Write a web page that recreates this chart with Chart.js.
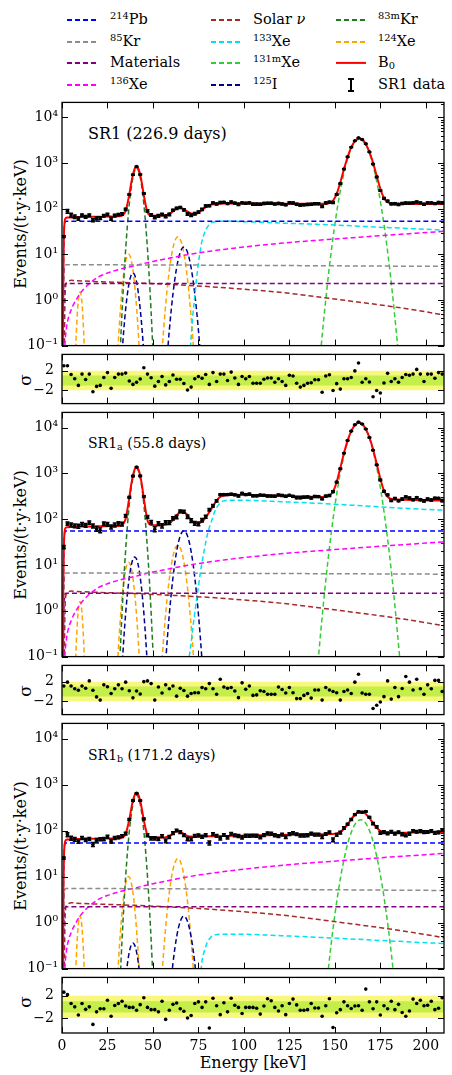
<!DOCTYPE html>
<html><head><meta charset="UTF-8">
<title>SR1 energy spectrum fit</title>
<script src="https://cdn.jsdelivr.net/npm/chart.js@4/dist/chart.umd.min.js"></script>
<style>
*{margin:0;padding:0;box-sizing:border-box}
body{width:452px;height:1075px;background:#fff;position:relative;overflow:hidden;font-family:'DejaVu Serif','Liberation Serif',serif;color:#000}
canvas{position:absolute;left:0}
.lt{position:absolute;font-size:14.5px;line-height:1;white-space:nowrap;transform:translateY(-55%)}
.sw{position:absolute;width:30px;height:2px;transform:translateY(-50%)}
.rot{position:absolute;white-space:nowrap;transform:translate(-50%,-50%) rotate(-90deg)}
.tag{position:absolute;white-space:nowrap;transform:translateY(-50%)}
sup{font-size:0.68em;vertical-align:0.5em;line-height:0}
sub{font-size:0.68em;vertical-align:-0.2em;line-height:0}
</style></head><body>

<!-- legend -->
<div class="sw" style="left:67px;top:20px;background:repeating-linear-gradient(90deg,#0000ff 0 5px,transparent 5px 8px)"></div>
<div class="lt" style="left:110px;top:20px"><sup>214</sup>Pb</div>
<div class="sw" style="left:67px;top:42px;background:repeating-linear-gradient(90deg,#8c8c8c 0 5px,transparent 5px 8px)"></div>
<div class="lt" style="left:110px;top:42px"><sup>85</sup>Kr</div>
<div class="sw" style="left:67px;top:63px;background:repeating-linear-gradient(90deg,#800080 0 5px,transparent 5px 8px)"></div>
<div class="lt" style="left:110px;top:63px">Materials</div>
<div class="sw" style="left:67px;top:85px;background:repeating-linear-gradient(90deg,#ff00ff 0 5px,transparent 5px 8px)"></div>
<div class="lt" style="left:110px;top:85px"><sup>136</sup>Xe</div>

<div class="sw" style="left:211px;top:20px;background:repeating-linear-gradient(90deg,#a52a2a 0 5px,transparent 5px 8px)"></div>
<div class="lt" style="left:253px;top:20px">Solar <i>ν</i></div>
<div class="sw" style="left:211px;top:42px;background:repeating-linear-gradient(90deg,#00e0f0 0 5px,transparent 5px 8px)"></div>
<div class="lt" style="left:253px;top:42px"><sup>133</sup>Xe</div>
<div class="sw" style="left:211px;top:63px;background:repeating-linear-gradient(90deg,#32cd32 0 5px,transparent 5px 8px)"></div>
<div class="lt" style="left:253px;top:63px"><sup>131m</sup>Xe</div>
<div class="sw" style="left:211px;top:85px;background:repeating-linear-gradient(90deg,#00008b 0 5px,transparent 5px 8px)"></div>
<div class="lt" style="left:253px;top:85px"><sup>125</sup>I</div>

<div class="sw" style="left:336px;top:20px;background:repeating-linear-gradient(90deg,#1e7b1e 0 5px,transparent 5px 8px)"></div>
<div class="lt" style="left:378px;top:20px"><sup>83m</sup>Kr</div>
<div class="sw" style="left:336px;top:42px;background:repeating-linear-gradient(90deg,#ffa500 0 5px,transparent 5px 8px)"></div>
<div class="lt" style="left:378px;top:42px"><sup>124</sup>Xe</div>
<div class="sw" style="left:336px;top:63px;background:#ff0000;height:2.2px"></div>
<div class="lt" style="left:378px;top:63px">B<sub>0</sub></div>
<div style="position:absolute;left:350px;top:78px;width:1.8px;height:14px;background:#000"></div>
<div style="position:absolute;left:348px;top:78px;width:6px;height:1.6px;background:#000"></div>
<div style="position:absolute;left:348px;top:90.4px;width:6px;height:1.6px;background:#000"></div>
<div class="lt" style="left:378px;top:85px">SR1 data</div>

<!-- axis titles and panel tags -->
<div class="rot" style="left:20px;top:224px;font-size:16px">Events/(t·y·keV)</div>
<div class="rot" style="left:20px;top:535px;font-size:16px">Events/(t·y·keV)</div>
<div class="rot" style="left:20px;top:846px;font-size:16px">Events/(t·y·keV)</div>
<div class="rot" style="left:25px;top:380px;font-size:17px">σ</div>
<div class="rot" style="left:25px;top:691px;font-size:17px">σ</div>
<div class="rot" style="left:25px;top:1002px;font-size:17px">σ</div>
<div class="tag" style="left:88px;top:133px;font-size:16px">SR1 (226.9 days)</div>
<div class="tag" style="left:88px;top:443px;font-size:14px">SR1<sub>a</sub> (55.8 days)</div>
<div class="tag" style="left:88px;top:755px;font-size:14px">SR1<sub>b</sub> (171.2 days)</div>
<div class="tag" style="left:253px;top:1062px;font-size:16px;transform:translate(-50%,-50%)">Energy [keV]</div>

<script>
// ---------- energies [keV] ----------
const binE = [1,3,5,7,9,11,13,15,17,19,21,23,25,27,29,31,33,35,37,39,41,43,45,47,49,51,53,55,57,59,61,63,65,67,69,71,73,75,77,79,81,83,85,87,89,91,93,95,97,99,101,103,105,107,109,111,113,115,117,119,121,123,125,127,129,131,133,135,137,139,141,143,145,147,149,151,153,155,157,159,161,163,165,167,169,171,173,175,177,179,181,183,185,187,189,191,193,195,197,199,201,203,205,207,209];
const fitE = [0.4,0.7,1,1.4,2,3,5,7,9,11,13,15,17,19,21,23,25,27,29,31,33,35,37,38,39,40,41,42,43,44,45,47,49,51,53,55,57,59,61,63,65,67,69,71,73,75,77,79,81,83,85,87,89,91,93,95,97,99,101,103,105,107,109,111,113,115,117,119,121,123,125,127,129,131,133,135,137,139,141,143,145,147,149,151,153,155,157,159,161,163,165,167,169,171,173,175,177,179,181,183,185,187,189,191,193,195,197,199,201,203,205,207,209,210];
const thrE = [0.5,0.8,1.0,1.3,1.7,2.2,210];
const solarE = [1.2,1.6,2,3,5,8,12,20,30,40,50,60,70,80,90,100,120,140,160,180,200,210];
const xe136E = [1.3,1.6,2,3,4,5,6,8,10,12,14,17,20,25,30,35,40,45,50,60,70,80,90,100,120,140,160,180,200,210];
const kr83E = [32,33,34,35,36,37,38,39,40,41,42,43,44,45,46,47,48,49,50];
const i125E = [32,33,34,35,36,37,38,39,40,41,42,43,44,45,46,52,57,58,59,60,61,62,63,64,65,66,67,68,69,70,71,72,73,74,75,76,77];
const i125E_a = [32,33,34,35,36,37,38,39,40,41,42,43,44,45,46,47,48,52,57,58,59,60,61,62,63,64,65,66,67,68,69,70,71,72,73,74,75,76,77];
const xe124E = [6.9,7.4,7.9,8.4,8.9,9.4,9.9,10.4,10.9,11.4,11.9,12.4,12.9,20,29.6,30.6,31.6,32.6,33.6,34.6,35.6,36.6,37.6,38.6,39.6,40.6,41.6,42.6,43.6,50,54.7,55.7,56.7,57.7,58.7,59.7,60.7,61.7,62.7,63.7,64.7,65.7,66.7,67.7,68.7,69.7,70.7,71.7,72.7];
const xe131mE = [139.5,141.5,143.5,145.5,147.5,149.5,151.5,153.5,155.5,157.5,159.5,161.5,163.5,165.5,167.5,169.5,171.5,173.5,175.5,177.5,179.5,181.5,183.5,185.5,187.5];
const xe131mE_a = [139.3,141.3,143.3,145.3,147.3,149.3,151.3,153.3,155.3,157.3,159.3,161.3,163.3,165.3,167.3,169.3,171.3,173.3,175.3,177.3,179.3,181.3,183.3,185.3,187.3];
const xe131mE_b = [144.2,146.2,148.2,150.2,152.2,154.2,156.2,158.2,160.2,162.2,164.2,166.2,168.2,170.2,172.2,174.2,176.2,178.2,180.2,182.2,184.2];
const xe133E = [70,71,72,73,74,75,76,77,78,79,80,81,82,83,84,86,90,100,110,120,130,140,150,160,170,180,190,200,210];
const xe133E_a = [69,70,71,72,73,74,75,76,77,78,79,80,81,82,83,84,85,86,87,88,89,90,93,96,100,110,120,130,140,150,160,170,180,190,200,210];
const xe133E_b = [76,77,78,79,80,81,82,84,87,95,120,150,180,210];

// ---------- shared components ----------
const solarNu = [0.05,0.8,2.0,2.5,2.7,2.65,2.6,2.52,2.45,2.37,2.28,2.18,2.08,1.97,1.85,1.72,1.47,1.18,0.93,0.73,0.55,0.47];
const xe136 = [0.02,0.1,0.17,0.33,0.47,0.6,0.75,1.05,1.4,1.75,2.1,2.65,3.2,3.9,4.5,5.1,5.6,6.3,7.0,8.4,10.0,11.5,13.0,14.5,17.5,20.3,23.2,26.5,30,32];

// ---------- SR1 (226.9 days) ----------
const sr1_data = [24.5,88,72.9,66.9,61.0,72.2,66.6,71.9,56.0,61.3,62.5,70.0,74.75,60.6,70.7,74.3,76.6,96.9,205.7,555.6,836.4,562.9,215.3,89.5,73.3,65.2,69.8,74.8,67.9,75.2,92.7,101.9,106.3,94.5,77.0,72.3,77.9,84.5,96.5,115.2,115.8,134.7,126.5,137.1,137.7,129.7,140.5,132.9,124.7,134.7,131.8,134.5,125.9,125.9,125.8,130.8,132.3,132.2,126.6,130.8,127.2,122.1,135.0,134.0,124.8,119.7,121.8,124.6,125.2,128.9,128.8,113.1,134.3,140.3,137.0,205.8,355.5,739.2,1367,2218,3076,3572,3292,2645,1759,955,498,250.8,168,147.5,127.7,129.1,124.3,130.2,133.9,133.1,134.7,140.7,134.8,125.6,135.0,135.0,129.8,136.9,135.2];
const sr1_err = [1.0,8,7,6,5,4.6,4.5,4.5,4.5,4.5,4.5,4.5,4.5,4.5,4.5,4.55,4.6,5.2,7.9,13,16,13,7.7,5,4.6,4.6,4.6,4.6,4.7,4.8,5.1,5.5,5.6,5.4,5.1,4.9,4.8,4.9,5.3,5.7,6.0,6.1,6.2,6.3,6.3,6.3,6.3,6.3,6.3,6.3,6.3,6.3,6.3,6.3,6.3,6.3,6.3,6.3,6.3,6.3,6.3,6.3,6.3,6.3,6.3,6.3,6.3,6.3,6.3,6.3,6.3,6.2,6.2,6.35,6.75,8,10.6,14.9,20.3,25.8,30.2,32.3,31.6,28.2,23,17.5,12.6,9.1,7.2,6.5,6.2,6.2,6.2,6.2,6.2,6.2,6.2,6.2,6.2,6.2,6.2,6.2,6.2,6.2,6.2];
const sr1_resid = [3.0,3.0,1.2,0.35,-1.0,1.3,0.2,1.3,-2.3,-1.2,-1.0,0.6,1.6,-1.6,0.6,1.3,1.3,1.5,-0.1,-0.8,-0.35,0.3,2.6,1.3,0.55,-1.15,-0.2,0.8,-0.9,-0.2,1.1,0.25,0.25,-0.6,-1.95,-1.35,0.35,0.8,0.45,1.2,-0.8,1.6,-0.2,1.3,1.3,0,1.7,0.5,-0.8,0.8,0.35,0.8,-0.55,-0.55,-0.55,0.25,0.5,0.5,-0.35,0.35,-0.2,-1.0,1.05,0.9,-0.55,-1.35,-1.0,-0.55,-0.45,0.15,0.15,-2.4,0.9,1.15,-2.05,-0.65,-1.75,0.35,0.35,0.6,1.95,3.55,-0.35,0.35,-0.3,-3.3,-2.05,-2.55,-0.5,1.45,-0.2,0.35,-0.35,0.6,1.2,1.05,1.3,2.25,1.3,-0.2,1.3,1.3,0.45,1.6,1.3];
const sr1_b0 = [0.05,3,21.5,50,62,64.0,64.5,64.75,66.0,66.2,65.7,66.05,66.4,66.7,67.0,67.3,67.55,67.8,68.0,68.4,70.6,89.1,206.5,357,566,762,842,758.5,559,346.7,195.3,83,70.8,70.5,70.75,71.1,72.1,76.2,87.1,100.5,104.9,97.7,86.9,78.9,76.2,80.6,94.1,108.4,120.6,124.9,127.7,129.0,129.5,129.7,129.8,129.7,129.7,129.7,129.6,129.5,129.4,129.4,129.3,129.2,129.1,129.0,128.8,128.6,128.5,128.4,128.4,128.3,128.3,128.2,128.1,128.1,128.0,128.0,127.9,128.0,128.7,133,150.8,211,374,734,1360,2203,3017,3457,3303,2635,1766,1013,524,274,171.6,138.1,128.9,126.9,126.5,126.5,126.5,126.6,126.6,126.7,126.7,126.8,126.9,126.9,127.0,127.0,127.1,127.2];
const sr1_pb214 = [0.05,5.3,18.5,42,51,53,53];
const sr1_kr85 = [0.006,0.59,2.1,4.7,5.7,5.9,5.45];
const sr1_mat = [0.002,0.23,0.8,1.84,2.23,2.3,2.3];
const sr1_xe133 = [0.04,0.15,0.5,1.2,3,6.5,12,20,27,34,40,45,48.5,50.5,52,53,53.5,52,50.3,48.5,47,45.5,44,42,40.2,38.5,37,35.5,34];
const sr1_xe131m = [0.004,0.036,0.26,1.57,7.9,32.7,111.6,315,737,1430,2295,3049,3350,3049,2295,1430,737,315,111.6,32.7,7.9,1.57,0.26,0.036,0.004];
const sr1_i125 = [0.015,0.066,0.229,0.636,1.40,2.48,3.48,3.9,3.48,2.48,1.40,0.636,0.229,0.066,0.015,null,0.020,0.071,0.216,0.58,1.36,2.79,5.04,7.98,11.07,13.5,14.4,13.5,11.07,7.98,5.04,2.79,1.36,0.58,0.216,0.071,0.020];
const sr1_kr83m = [0.079,0.54,2.97,13.0,45.3,125.5,277,489,688,770,688,489,277,125.5,45.3,13.0,2.97,0.54,0.079];
const sr1_xe124 = [0.017,0.066,0.203,0.49,0.91,1.32,1.5,1.32,0.91,0.49,0.203,0.066,0.017,null,0.011,0.068,0.314,1.09,2.87,5.75,8.71,10,8.71,5.75,2.87,1.09,0.314,0.068,0.011,null,0.050,0.184,0.576,1.56,3.6,7.17,12.2,17.9,22.5,24.3,22.5,17.9,12.2,7.17,3.6,1.56,0.576,0.184,0.050];

// ---------- SR1a (55.8 days) ----------
const sr1a_data = [24.5,80.2,75.1,71.6,70.8,77.0,73.2,84.1,71.1,61.8,57.5,79.8,77.1,67.8,74.8,81.0,78.1,118.3,299.2,869.9,1369,877.9,311.1,112.4,85.8,60.6,80.3,71.8,85.2,84.5,104.7,111.9,148.8,145.5,113.4,93.3,80.9,79.2,95.2,113.4,160.1,196.5,250.8,343.9,343.7,345.0,350.7,340.5,319.8,365.8,344.9,354.0,322.9,323.0,334.6,330.7,320.5,318.9,317.2,337.9,329.1,316.9,332.2,314.6,295.0,293.3,301.4,305.7,289.7,312.7,311.0,279.4,319.5,329.2,398.9,642.2,1259,2744,5200,8334,11490,13097,11931,9281,6044,3184,1531,715.5,403.2,340.7,255.9,281.3,252.9,274.1,306.4,289.1,265.7,294.7,266.7,250.4,275.3,263.6,285.8,285.0,253.6];
const sr1a_err = [2,7.0,7.0,7.0,7.1,7.1,7.0,7.05,7.1,7.1,7.1,7.1,7.1,7.15,7.15,7.2,7.3,8.6,14.6,25.5,31.4,25.4,14.3,8.3,7.3,7.3,7.3,7.3,7.4,7.6,8.3,9.3,10.1,10.2,9.4,8.35,7.7,7.65,8.0,8.85,10.2,11.7,13.7,14.9,15.4,15.6,15.6,15.6,15.6,15.6,15.6,15.6,15.5,15.5,15.5,15.45,15.4,15.4,15.4,15.3,15.3,15.2,15.2,15.2,15.1,15.1,15.0,15.0,15.0,14.9,14.9,14.85,14.9,15.3,17.0,21.6,30.8,44.5,61.2,77.7,90.4,96,93,82,66.3,49.2,34.3,23.5,17.5,14.9,14.2,14.0,13.9,13.9,13.8,13.8,13.7,13.7,13.7,13.7,13.6,13.6,13.6,13.6,13.6];
const sr1a_resid = [1.1,1.9,1.1,0.55,0.25,1.1,0.65,2.15,0.25,-1.1,-1.75,1.35,0.95,-0.4,0.55,1.35,0.55,1.9,0.15,-1.3,0.1,-0.5,2.0,2.15,1.6,-1.75,0.9,-0.3,1.35,0.55,1.1,-0.95,0.65,0.2,-0.95,-0.4,-0.25,-0.25,0.8,0.55,1.6,0.55,-0.55,2.5,0.9,0.65,0.8,0.1,-1.25,1.75,0.45,1.1,-0.8,-0.7,0.15,0,-0.55,-0.55,-0.55,0.9,0.4,-0.3,0.8,-0.25,-1.45,-1.45,-0.8,-0.4,-1.35,0.3,0.3,-1.75,0.8,0.3,0,-0.25,-1.75,0,0.3,-0.4,1.9,3.5,-0.3,-0.55,-0.55,-3.45,-2.8,-2.15,-1.05,2.15,-1.55,0.8,-1.05,0.6,3.05,1.9,0.3,2.5,0.55,-0.55,1.35,0.55,2.25,2.25,0];
const sr1a_b0 = [0.05,3.1,22.4,52,64.5,66.9,67.4,67.7,69.0,69.2,68.6,68.95,69.3,69.6,69.9,70.2,70.4,70.7,70.9,71.25,74.1,102,297,551,903,1232,1366,1224.6,890.6,535.9,282.5,94.6,74.1,73.4,73.7,74.0,75.2,80.3,95.6,120.7,142.2,143.5,122.3,96.6,82.8,81.1,88.8,108.5,143.8,190.1,258.3,306.6,329.8,334.9,338.2,338.9,339.4,338.5,337.9,336.8,335.4,333.9,332.3,330.7,329.0,327.4,325.7,324.1,323.0,321.5,320.0,318.4,316.9,315.2,313.4,311.7,309.9,308.2,306.5,305.4,307.6,324.6,398.9,647.6,1313,2744,5182,8365,11318,12761,11959,9326,6080,3354,1627,766,421.6,308.7,277.9,270.1,267.5,265.8,264.3,262.9,261.6,260.4,259.2,257.9,256.9,256.1,255.2,254.4,253.6,253.2];
const sr1a_pb214 = [0.05,5.5,19.3,44,53.4,55,55];
const sr1a_kr85 = [0.007,0.67,2.35,5.4,6.5,6.7,6.3];
const sr1a_mat = [0.0024,0.24,0.84,1.92,2.33,2.4,2.4];
const sr1a_xe133 = [0.03,0.1,0.2,0.45,0.9,1.8,3.4,6.5,11.5,19,31,47,66,85,115,148,178,205,228,243,251,255,259,260,258,250,241,232,222,212,201,190,180,171,163,157];
const sr1a_xe131m = [0.015,0.134,0.97,5.9,29.5,122,416,1175,2750,5338,8563,11375,12500,11375,8563,5338,2750,1175,416,122,29.5,5.9,0.97,0.134,0.015];
const sr1a_i125 = [0.011,0.058,0.25,0.88,2.45,5.4,9.5,13.4,15,13.4,9.5,5.4,2.45,0.88,0.25,0.058,0.011,null,0.079,0.276,0.84,2.25,5.28,10.9,19.6,31.0,43.1,52.4,56,52.4,43.1,31.0,19.6,10.9,5.28,2.25,0.84,0.276,0.079];
const sr1a_kr83m = [0.132,0.90,4.94,21.6,75.3,209,461,813,1143,1280,1143,813,461,209,75.3,21.6,4.94,0.90,0.132];
const sr1a_xe124 = [0.018,0.07,0.216,0.52,0.97,1.41,1.6,1.41,0.97,0.52,0.216,0.07,0.018,null,0.013,0.079,0.36,1.25,3.3,6.6,10.0,11.5,10.0,6.6,3.3,1.25,0.36,0.079,0.013,null,0.056,0.204,0.64,1.73,4.0,7.97,13.6,19.9,25.0,27,25.0,19.9,13.6,7.97,4.0,1.73,0.64,0.204,0.056];

// ---------- SR1b (171.2 days) ----------
const sr1b_data = [25.3,81.6,68.7,64.75,58.4,69.3,63.4,66.0,50.1,62.0,65.2,65.45,73.7,58.9,69.25,71.4,75.7,86.5,174.1,447.4,650.2,449.6,179.2,79.3,67.95,67.8,65.9,76.3,60.0,72.75,88.6,100.5,92.85,80.1,65.9,65.8,76.9,78.7,73.7,79.6,54.3,83.9,76.85,68.35,80.4,71.55,85.3,78.7,76.75,70.9,77.3,77.55,77.85,77.3,71.7,80.0,87.6,85.9,79.4,76.1,81.6,72.9,84.4,89.2,83.5,78.3,78.5,79.35,85.9,81.6,81.8,73.4,84.55,92.3,63.1,80.8,90.35,114.1,137.3,174.1,222.8,255.1,250.4,261.0,194.8,142.4,121.2,89.6,92.8,87.1,94.5,85.9,91.9,83.55,79.65,85.65,98.9,94.4,98.3,92.65,93.6,98.2,89.5,91.4,103.4];
const sr1b_err = [1.5,8,7,6,5.2,5.1,5.1,5.1,5.15,5.15,5.15,5.15,5.2,5.2,5.2,5.2,5.3,5.8,8.3,13.3,16.2,13.3,8.1,5.6,5.3,5.3,5.3,5.3,5.35,5.5,5.85,6.2,6.15,5.8,5.5,5.4,5.4,5.4,5.4,5.45,5.45,5.5,5.5,5.5,5.5,5.5,5.5,5.55,5.55,5.55,5.6,5.6,5.6,5.6,5.6,5.6,5.6,5.6,5.6,5.65,5.65,5.65,5.7,5.7,5.7,5.7,5.7,5.7,5.7,5.7,5.7,5.75,5.75,5.8,5.8,5.9,6.1,6.55,7.3,8.4,9.4,10.0,10.1,9.6,8.6,7.6,6.8,6.3,6.0,5.95,5.95,5.95,5.95,5.95,6.0,6.0,6.0,6.0,6.0,6.0,6.0,6.05,6.05,6.05,6.1];
const sr1b_resid = [2.65,2.2,0.6,0,-1.45,0.6,-0.45,0,-3.15,-0.9,-0.35,-0.35,1.2,-1.7,0.25,0.6,1.0,0.15,-0.1,-0.1,-0.6,0.4,1.65,-0.1,-0.5,-0.5,-0.9,1.0,-2.25,-0.6,0.45,0.7,-0.35,-0.8,-2.0,-1.55,0.6,0.9,-0.1,0.9,-3.8,1.55,0.2,-1.4,0.75,-0.9,1.55,0.3,-0.1,-1.2,-0.1,-0.1,-0.1,-0.25,-1.3,0.15,1.45,1.1,-0.1,-0.75,0.2,-1.4,0.6,1.4,0.35,-0.6,-0.6,-0.5,0.6,-0.2,-0.2,-1.7,0.2,1.45,-3.7,-1.05,-0.5,0.9,0.2,-0.3,0.15,0.2,-0.6,3.2,0.9,-0.35,0.9,-1.45,0.2,-0.35,1.0,-0.5,0.45,-1.0,-1.7,-0.75,1.4,0.6,1.2,0.2,0.3,1.0,-0.5,-0.25,1.65];
const sr1b_b0 = [0.05,2.9,21.3,49,61.5,64.0,64.5,64.75,65.9,66.2,65.65,66.0,66.35,66.65,67.0,67.25,67.5,67.75,67.95,68.3,70.4,85.6,174.9,288.7,448.7,598.2,659.9,596.2,444.3,281.5,165.8,79.9,70.6,70.45,70.7,71.0,72.0,76.05,86.0,96.2,95.0,84.7,76.9,74.15,73.7,73.8,74.25,74.7,75.05,75.4,75.75,76.05,76.3,76.5,76.8,77.05,77.3,77.6,77.85,78.1,78.4,78.7,79.0,79.2,79.5,79.75,80.0,80.3,80.5,80.8,81.0,81.25,81.5,81.7,81.95,82.2,82.45,82.7,82.9,83.2,83.4,83.9,84.6,87.0,93.4,108.2,135.8,176.6,221.4,253.1,256.5,230.3,187.1,145.1,115.1,98.7,91.6,89.2,88.8,88.9,89.2,89.5,89.85,90.15,90.5,90.8,91.1,91.45,91.8,92.15,92.55,92.9,93.3,93.5];
const sr1b_pb214 = [0.05,5.35,18.7,42.8,51.9,53.5,53.5];
const sr1b_kr85 = [0.0055,0.55,1.93,4.4,5.34,5.5,5.0];
const sr1b_mat = [0.0022,0.22,0.77,1.76,2.13,2.2,2.2];
const sr1b_xe133 = [0.06,0.15,0.22,0.3,0.38,0.44,0.49,0.54,0.56,0.56,0.52,0.46,0.4,0.35];
const sr1b_xe131m = [0.0135,0.081,0.41,1.69,5.76,16.3,38.1,73.9,118.5,157,173,157,118.5,73.9,38.1,16.3,5.76,1.69,0.41,0.081,0.0135];
const sr1b_i125 = [0.0014,0.0061,0.021,0.059,0.13,0.229,0.32,0.36,0.32,0.229,0.13,0.059,0.021,0.0061,0.0014,null,0.0019,0.0068,0.021,0.055,0.13,0.268,0.483,0.765,1.06,1.29,1.38,1.29,1.06,0.765,0.483,0.268,0.13,0.055,0.021,0.0068,0.0019];
const sr1b_kr83m = [0.061,0.42,2.28,10.0,34.7,96.2,212,375,527,590,527,375,212,96.2,34.7,10.0,2.28,0.42,0.061];
const sr1b_xe124 = [0.016,0.062,0.19,0.455,0.85,1.23,1.4,1.23,0.85,0.455,0.19,0.062,0.016,null,0.011,0.068,0.314,1.09,2.87,5.75,8.71,10,8.71,5.75,2.87,1.09,0.314,0.068,0.011,null,0.051,0.186,0.58,1.57,3.64,7.26,12.4,18.1,22.8,24.6,22.8,18.1,12.4,7.26,3.64,1.57,0.58,0.186,0.051];

// ---------- axes ----------
const decades = [0.1, 1, 10, 100, 1000, 10000];
const decadeLabels = ['10⁻¹', '10⁰', '10¹', '10²', '10³', '10⁴'];
const energyTicks = [0, 25, 50, 75, 100, 125, 150, 175, 200];
const sigmaTicks = [-2, 2];
const sigmaBandX = [0, 210];
const band2Hi = [2, 2], band2Lo = [-2, -2], band1Hi = [1, 1], band1Lo = [-1, -1];

// ---------- layout ----------
const FONT = "'DejaVu Serif', 'Liberation Serif', serif";
const AX_L = 62, AX_R = 444, PAD = 10;
const mainBoxes = [[100, 348], [410, 659], [721, 971]];
const resBoxes = [[348, 410], [659, 721], [971, 1033]];

Chart.defaults.font.family = FONT;
Chart.defaults.color = '#000';

const minorLog = [];
for (let d = 0.1; d < 2e4; d *= 10) for (let m = 2; m <= 9; m++) if (d * m < 21400) minorLog.push(d * m);

const pts = (xs, ys) => xs.map((x, i) => ({x, y: ys[i]}));

function dashed(xs, ys, color) {
  return {data: pts(xs, ys), borderColor: color, borderWidth: 1.5, borderDash: [5, 3],
    pointRadius: 0, fill: false, cubicInterpolationMode: 'monotone', order: 3};
}

// inward ticks + box around the plotting area
function framePlugin(yMajor, yMinor) {
  return {
    id: 'frame',
    afterDraw(chart) {
      const {ctx, chartArea: a, scales: {x, y}} = chart;
      ctx.save();
      ctx.strokeStyle = '#000';
      ctx.lineWidth = 1;
      ctx.beginPath();
      energyTicks.forEach(v => {
        const px = Math.round(x.getPixelForValue(v)) + 0.5;
        ctx.moveTo(px, a.top); ctx.lineTo(px, a.top + 6);
        ctx.moveTo(px, a.bottom); ctx.lineTo(px, a.bottom - 6);
      });
      yMajor.forEach(v => {
        const py = Math.round(y.getPixelForValue(v)) + 0.5;
        ctx.moveTo(a.left, py); ctx.lineTo(a.left + 6, py);
        ctx.moveTo(a.right, py); ctx.lineTo(a.right - 6, py);
      });
      yMinor.forEach(v => {
        const py = Math.round(y.getPixelForValue(v)) + 0.5;
        ctx.moveTo(a.right, py); ctx.lineTo(a.right - 3, py);
      });
      ctx.stroke();
      ctx.lineWidth = 1.3;
      ctx.strokeRect(a.left, a.top, a.right - a.left, a.bottom - a.top);
      ctx.restore();
    }
  };
}

// vertical error bars with caps for datasets carrying an errs array
const errorBars = {
  id: 'errorBars',
  afterDatasetsDraw(chart) {
    const {ctx, scales: {y}} = chart;
    ctx.save();
    ctx.strokeStyle = '#000';
    ctx.lineWidth = 1.5;
    chart.data.datasets.forEach((ds, i) => {
      if (!ds.errs) return;
      chart.getDatasetMeta(i).data.forEach((p, j) => {
        const v = ds.data[j].y, e = ds.errs[j];
        const y1 = y.getPixelForValue(v + e), y2 = y.getPixelForValue(Math.max(v - e, 1e-3));
        ctx.beginPath();
        ctx.moveTo(p.x, y1); ctx.lineTo(p.x, y2);
        ctx.moveTo(p.x - 2, y1); ctx.lineTo(p.x + 2, y1);
        ctx.moveTo(p.x - 2, y2); ctx.lineTo(p.x + 2, y2);
        ctx.stroke();
      });
    });
    ctx.restore();
  }
};

function addCanvas(top, h) {
  const c = document.createElement('canvas');
  c.width = 452; c.height = h;
  c.style.top = top + 'px';
  document.body.appendChild(c);
  return c;
}

const hiddenX = {type: 'linear', min: 0, max: 210, display: false};

function mainPanel(k, s) {
  const [t, b] = mainBoxes[k];
  new Chart(addCanvas(t - PAD, b - t + 2 * PAD), {
    type: 'line',
    data: {datasets: [
      {data: pts(binE, s.data), errs: s.err, showLine: false, pointRadius: 1.8,
        pointBackgroundColor: '#000', pointBorderWidth: 0, order: 0},
      {data: pts(fitE, s.b0), borderColor: '#ff0000', borderWidth: 2, pointRadius: 0,
        fill: false, cubicInterpolationMode: 'monotone', order: 1},
      dashed(thrE, s.pb214, '#0000ff'),
      dashed(thrE, s.kr85, '#8c8c8c'),
      dashed(thrE, s.mat, '#800080'),
      dashed(xe136E, xe136, '#ff00ff'),
      dashed(solarE, solarNu, '#a52a2a'),
      dashed(s.xe133E, s.xe133, '#00e0f0'),
      dashed(s.xe131mE, s.xe131m, '#32cd32'),
      dashed(s.i125E, s.i125, '#00008b'),
      dashed(kr83E, s.kr83m, '#1e7b1e'),
      dashed(xe124E, s.xe124, '#ffa500')
    ]},
    options: {
      responsive: false, animation: false, devicePixelRatio: 1, spanGaps: false,
      layout: {padding: {top: PAD, bottom: PAD, left: 0, right: 452 - AX_R}},
      plugins: {legend: {display: false}, tooltip: {enabled: false}},
      scales: {
        x: hiddenX,
        y: {type: 'logarithmic', min: 0.1, max: 21400,
          afterFit: sc => { sc.width = AX_L; },
          afterBuildTicks: sc => { sc.ticks = decades.map(v => ({value: v})); },
          ticks: {callback: (v, i) => decadeLabels[i], font: {size: 14, family: FONT}, color: '#000',
            padding: 4, autoSkip: false},
          grid: {display: false, drawTicks: false}, border: {display: false}}
      }
    },
    plugins: [framePlugin(decades, minorLog), errorBars]
  });
}

function residualPanel(k, resid, withX) {
  const [t, b] = resBoxes[k];
  const xH = 24;
  const xScale = withX ? {type: 'linear', min: 0, max: 210,
    afterFit: sc => { sc.height = xH; },
    afterBuildTicks: sc => { sc.ticks = energyTicks.map(v => ({value: v})); },
    ticks: {font: {size: 14, family: FONT}, color: '#000', padding: 5, maxRotation: 0, autoSkip: false},
    grid: {display: false, drawTicks: false}, border: {display: false}} : hiddenX;
  const band = (ys, color, fill, order) => ({data: pts(sigmaBandX, ys), borderWidth: 0, pointRadius: 0,
    backgroundColor: color, fill, order});
  new Chart(addCanvas(t - PAD, b - t + PAD + (withX ? xH : PAD)), {
    type: 'line',
    data: {datasets: [
      {data: pts(binE, resid), showLine: false, pointRadius: 1.8, pointBackgroundColor: '#000',
        pointBorderWidth: 0, order: 0},
      band(band1Hi, '#c4ee4a', '+1', 1),
      band(band1Lo, '#c4ee4a', false, 1),
      band(band2Hi, '#f8f87c', '+1', 2),
      band(band2Lo, '#f8f87c', false, 2)
    ]},
    options: {
      responsive: false, animation: false, devicePixelRatio: 1,
      layout: {padding: {top: PAD, bottom: withX ? 0 : PAD, left: 0, right: 452 - AX_R}},
      plugins: {legend: {display: false}, tooltip: {enabled: false}},
      scales: {
        x: xScale,
        y: {type: 'linear', min: -4.7, max: 5.3,
          afterFit: sc => { sc.width = AX_L; },
          afterBuildTicks: sc => { sc.ticks = sigmaTicks.map(v => ({value: v})); },
          ticks: {callback: v => (v < 0 ? '−' + Math.abs(v) : String(v)), font: {size: 14, family: FONT},
            color: '#000', padding: 8, autoSkip: false},
          grid: {display: false, drawTicks: false}, border: {display: false}}
      }
    },
    plugins: [framePlugin(sigmaTicks, [])]
  });
}

mainPanel(0, {data: sr1_data, err: sr1_err, b0: sr1_b0, pb214: sr1_pb214, kr85: sr1_kr85, mat: sr1_mat,
  xe133E: xe133E, xe133: sr1_xe133, xe131mE: xe131mE, xe131m: sr1_xe131m, i125E: i125E, i125: sr1_i125,
  kr83m: sr1_kr83m, xe124: sr1_xe124});
residualPanel(0, sr1_resid, false);
mainPanel(1, {data: sr1a_data, err: sr1a_err, b0: sr1a_b0, pb214: sr1a_pb214, kr85: sr1a_kr85, mat: sr1a_mat,
  xe133E: xe133E_a, xe133: sr1a_xe133, xe131mE: xe131mE_a, xe131m: sr1a_xe131m, i125E: i125E_a, i125: sr1a_i125,
  kr83m: sr1a_kr83m, xe124: sr1a_xe124});
residualPanel(1, sr1a_resid, false);
mainPanel(2, {data: sr1b_data, err: sr1b_err, b0: sr1b_b0, pb214: sr1b_pb214, kr85: sr1b_kr85, mat: sr1b_mat,
  xe133E: xe133E_b, xe133: sr1b_xe133, xe131mE: xe131mE_b, xe131m: sr1b_xe131m, i125E: i125E, i125: sr1b_i125,
  kr83m: sr1b_kr83m, xe124: sr1b_xe124});
residualPanel(2, sr1b_resid, true);
</script>
</body></html>
